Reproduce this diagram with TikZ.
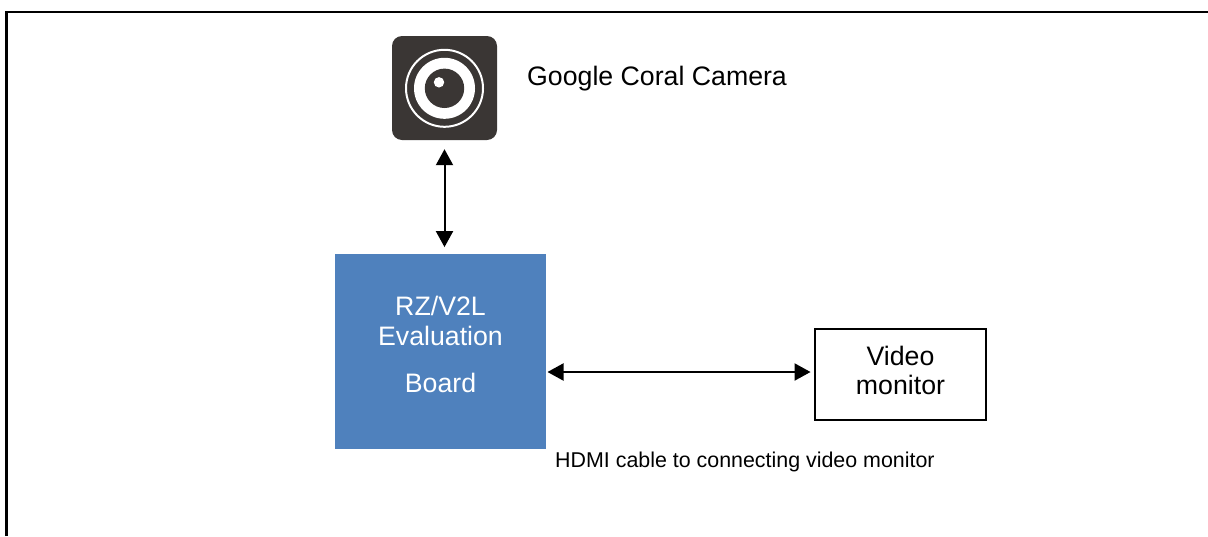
\documentclass[tikz,border=0pt]{standalone}
\usepackage{fontspec}
\setmainfont{Liberation Sans}
\usetikzlibrary{arrows.meta,calc}
\definecolor{boardblue}{HTML}{4F81BD}
\definecolor{icondark}{HTML}{3A3634}
\tikzset{
  x=1pt,y=-1pt,
  frameline/.style={draw=black,line width=2.3pt},
  boardbox/.style={fill=boardblue,draw=none,minimum width=211pt,minimum height=195pt,inner sep=0pt},
  boardtext/.style={text=white,font=\fontsize{26.7}{30}\selectfont,align=center,inner sep=0pt},
  monitorbox/.style={draw=black,line width=2.3pt,fill=white,minimum width=171pt,minimum height=91pt,inner sep=0pt},
  monitortext/.style={font=\fontsize{26.7}{30}\selectfont,inner sep=0pt,anchor=base},
  iconbox/.style={fill=icondark,draw=none,rounded corners=10pt,minimum width=105pt,minimum height=104pt,inner sep=0pt},
  biarrow/.style={{Triangle[length=16pt,width=17pt]}-{Triangle[length=16pt,width=17pt]},line width=2pt,black},
  caption/.style={inner sep=0pt,anchor=base west}
}
\begin{document}
\begin{tikzpicture}
\useasboundingbox (0,0) rectangle (1208,536);
\draw[frameline] (6.5,536) -- (6.5,12) -- (1208,12);
% camera icon
\node[iconbox] (cam) at (444.5,88) {};
\draw[white,line width=2pt] (444.5,88.3) circle[radius=38.5pt];
\fill[white] (444.5,88.3) circle[radius=30.5pt];
\fill[icondark] (444.5,88.3) circle[radius=19.7pt];
\fill[white] (439,82.3) circle[radius=5.2pt];
\node[caption,font=\fontsize{26.7}{30}\selectfont] (camlabel) at (527,85) {Google Coral Camera};
% board
\node[boardbox] (board) at (440.5,351.5) {};
\node[boardtext,anchor=base] (boardlabel1) at (440.5,315) {RZ/V2L};
\node[boardtext,anchor=base] (boardlabel2) at (440.5,345) {Evaluation};
\node[boardtext,anchor=base] (boardlabel3) at (440.5,392) {Board};
% monitor
\node[monitorbox] (mon) at (900.5,374.5) {};
\node[monitortext] (monlabel1) at (900.5,365) {Video};
\node[monitortext] (monlabel2) at (900.5,394.5) {monitor};
\node[caption,font=\fontsize{21.4}{25}\selectfont] (hdmi) at (555,467.7) {HDMI cable to connecting video monitor};
% connectors
\coordinate (hl) at (0,372);
\draw[biarrow,shorten <=9pt,shorten >=6.7pt] (cam.south) -- (cam.south |- board.north);
\draw[biarrow,shorten <=1.3pt,shorten >=3.3pt] (board.east |- hl) -- (mon.west |- hl);
\end{tikzpicture}
\end{document}
